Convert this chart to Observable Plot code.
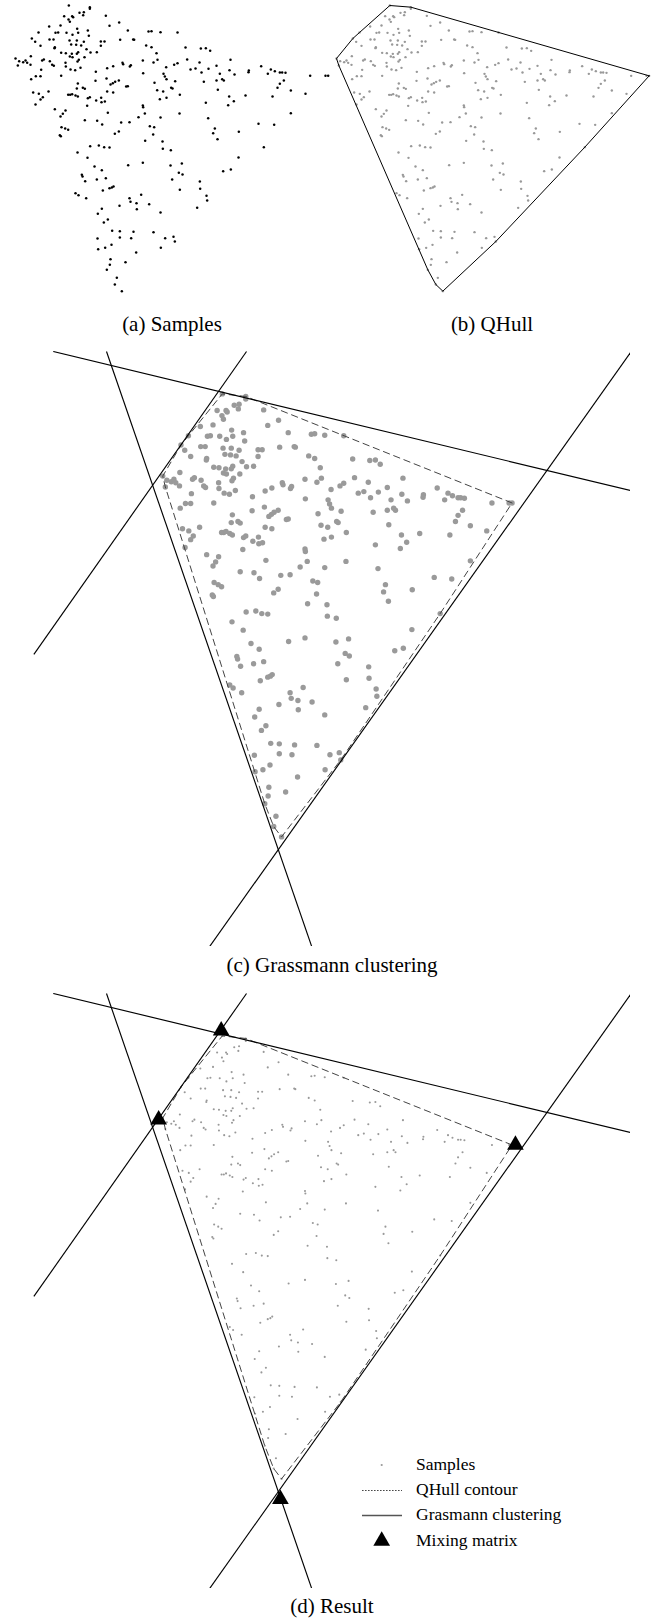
<!DOCTYPE html>
<html>
<head>
<meta charset="utf-8">
<script src="https://cdn.jsdelivr.net/npm/d3@7"></script>
<script src="https://cdn.jsdelivr.net/npm/@observablehq/plot@0.6"></script>
<style>
  body { margin: 0; background: #fff; }
  #fig { position: relative; width: 654px; height: 1618px; font-family: "Liberation Serif", "Times New Roman", serif; }
  #fig > svg { position: absolute; }
</style>
</head>
<body>
<div id="fig"></div>
<script>
// Two-dimensional projections of the observed mixtures (arbitrary units, y grows downward)
const sampleX = [205,268,268,237,250,248,191,215,218,316,204,208,356,146,180,327,230,262,382,444,
  453,480,531,114,165,173,198,233,216,265,94,147,159,207,229,250,301,312,359,398,
  401,104,120,212,227,163,162,242,301,437,453,555,601,616,629,258,233,229,270,289,
  182,196,214,208,468,216,252,235,231,91,130,125,56,68,75,80,45,52,90,148,
  155,160,195,196,210,224,240,427,459,471,560,597,690,366,368,388,391,338,320,497,
  521,531,570,585,603,624,648,687,702,658,745,744,782,802,811,823,838,845,855,929,
  975,983,122,106,120,92,182,286,318,428,489,493,498,524,462,610,648,665,670,850,
  232,247,253,229,285,337,344,355,330,377,382,320,338,470,488,512,516,652,831,838,
  871,915,98,115,144,127,120,105,203,209,215,225,232,262,268,287,302,303,313,260,
  478,498,538,616,686,700,683,735,816,427,428,163,195,187,180,322,537,433,414,480,
  871,253,290,305,362,387,623,774,821,448,461,355,343,458,183,194,203,178,181,643,
  638,651,715,434,486,269,295,311,327,231,487,511,790,261,714,383,427,282,304,510,
  544,535,546,668,691,244,246,254,289,316,515,327,334,339,307,538,598,599,225,234,
  257,387,390,422,408,409,446,357,618,620,590,304,292,322,310,480,335,358,358,399,
  392,459,494,519,523,291,293,314,333,407,481,330,328,319,375,349,343,364];
const sampleY = [15,20,25,37,35,44,47,47,50,46,57,64,66,78,75,76,85,90,90,93,
  92,95,96,96,97,96,97,97,103,106,114,117,117,120,120,124,123,123,118,117,
  118,124,136,132,133,140,143,135,136,135,140,141,144,143,151,146,155,160,156,155,
  157,158,160,168,158,170,170,178,183,167,177,180,182,185,180,187,174,195,193,182,
  193,196,187,198,207,209,202,180,186,178,177,186,178,187,191,198,194,197,203,200,
  193,188,207,204,216,205,196,209,222,220,210,215,197,220,207,212,216,216,217,226,
  226,226,208,227,227,236,226,214,234,218,220,228,236,242,247,244,240,236,240,240,
  249,262,265,264,241,248,244,240,252,258,257,273,276,269,273,262,264,268,262,250,
  270,280,276,280,273,290,297,312,283,283,281,285,288,293,290,300,292,305,303,316,
  296,292,283,307,288,302,314,285,288,315,320,326,330,340,348,337,339,339,350,351,
  338,359,361,372,366,365,353,370,373,377,380,393,400,402,380,384,388,404,407,384,
  398,416,394,421,423,437,435,440,441,456,445,449,440,472,471,494,487,498,509,495,
  489,517,522,512,507,523,528,542,537,533,537,563,561,558,570,568,543,565,578,584,
  593,593,604,583,608,626,611,616,586,600,622,625,640,657,666,636,691,692,711,694,
  713,695,713,709,723,714,746,742,733,756,742,776,793,808,785,832,852,872];

// Grassmann clustering: one line per source direction, given by two points
const lineX1 = [-249, -106, 270, 1301];
const lineY1 = [-67, -67, -67, -65];
const lineX2 = [1301, 445, -301, 171];
const lineY2 = [202, 1084, 519, 1084];

// Estimated mixing matrix columns
const mixX = [202, 34, 992, 361];
const mixY = [5, 177, 226, 911];

const samples = sampleX.map((x, i) => ({x, y: sampleY[i]}));
const lines = lineX1.map((x1, i) => ({x1, y1: lineY1[i], x2: lineX2[i], y2: lineY2[i]}));
const mixing = mixX.map((x, i) => ({x, y: mixY[i]}));

// Convex hull of the samples (closed ring)
const hull = d3.polygonHull(samples.map(d => [d.x, d.y]));
hull.push(hull[0]);

const fig = document.getElementById("fig");

function panel({left, top, width, height, xDomain, yDomain, marks}) {
  const svg = Plot.plot({
    width, height, margin: 0,
    x: {domain: xDomain, axis: null},
    y: {domain: yDomain, reverse: true, axis: null},
    style: {background: "transparent", overflow: "visible"},
    marks
  });
  svg.style.position = "absolute";
  svg.style.left = left + "px";
  svg.style.top = top + "px";
  fig.append(svg);
}

const smallDomainX = [0, 990], smallDomainY = [0, 900];
const bigDomainX = [-302, 1301], bigDomainY = [-67, 1084];

// (a) raw samples
panel({left: 0, top: 0, width: 330, height: 300, xDomain: smallDomainX, yDomain: smallDomainY,
  marks: [Plot.dot(samples, {x: "x", y: "y", r: 1.25, fill: "black", stroke: null})]});

// (b) samples with their convex hull
panel({left: 321, top: 0, width: 330, height: 300, xDomain: smallDomainX, yDomain: smallDomainY,
  marks: [
    Plot.dot(samples, {x: "x", y: "y", r: 1.2, fill: "#999", stroke: null}),
    Plot.line(hull, {x: d => d[0], y: d => d[1], stroke: "black", strokeWidth: 1})
  ]});

// (c) Grassmann clustering lines over the hull
panel({left: 33, top: 351, width: 597, height: 595, xDomain: bigDomainX, yDomain: bigDomainY,
  marks: [
    Plot.dot(samples, {x: "x", y: "y", r: 2.7, fill: "#9a9a9a", stroke: null}),
    Plot.line(hull, {x: d => d[0], y: d => d[1], stroke: "#444", strokeWidth: 1, strokeDasharray: "6.5,4.5"}),
    Plot.link(lines, {x1: "x1", y1: "y1", x2: "x2", y2: "y2", stroke: "black", strokeWidth: 1.15, clip: true})
  ]});

// (d) result with the estimated mixing matrix
panel({left: 33, top: 993, width: 597, height: 595, xDomain: bigDomainX, yDomain: bigDomainY,
  marks: [
    Plot.dot(samples, {x: "x", y: "y", r: 1.05, fill: "#999", stroke: null}),
    Plot.line(hull, {x: d => d[0], y: d => d[1], stroke: "#444", strokeWidth: 1, strokeDasharray: "6.5,4.5"}),
    Plot.link(lines, {x1: "x1", y1: "y1", x2: "x2", y2: "y2", stroke: "black", strokeWidth: 1.15, clip: true}),
    Plot.dot(mixing, {x: "x", y: "y", symbol: "triangle", r: 6.2, fill: "black", stroke: null})
  ]});

// Captions and legend
const overlay = d3.create("svg")
  .attr("width", 654).attr("height", 1618)
  .style("left", "0px").style("top", "0px").style("pointer-events", "none")
  .attr("font-family", "'Liberation Serif', 'Times New Roman', serif");

const captions = [
  {text: "(a) Samples", x: 172, y: 331},
  {text: "(b) QHull", x: 492, y: 331},
  {text: "(c) Grassmann clustering", x: 332, y: 972},
  {text: "(d) Result", x: 332, y: 1613}
];
overlay.selectAll("text.cap").data(captions).join("text")
  .attr("class", "cap")
  .attr("x", d => d.x).attr("y", d => d.y)
  .attr("text-anchor", "middle").attr("font-size", 21).attr("fill", "black")
  .text(d => d.text);

const legend = overlay.append("g");
const rowY = [1465, 1490.5, 1515.5, 1541];
const labels = ["Samples", "QHull contour", "Grasmann clustering", "Mixing matrix"];
legend.append("circle").attr("cx", 381.7).attr("cy", rowY[0]).attr("r", 1.1).attr("fill", "#999");
legend.append("line").attr("x1", 362).attr("x2", 402).attr("y1", rowY[1]).attr("y2", rowY[1])
  .attr("stroke", "#333").attr("stroke-width", 0.9).attr("stroke-dasharray", "1.6,1.4");
legend.append("line").attr("x1", 362).attr("x2", 402).attr("y1", rowY[2]).attr("y2", rowY[2])
  .attr("stroke", "#555").attr("stroke-width", 1.6);
legend.append("path").attr("transform", `translate(381.7,${rowY[3]})`)
  .attr("d", d3.symbol(d3.symbolTriangle, Math.PI * 6.2 * 6.2)()).attr("fill", "black");
legend.selectAll("text").data(labels).join("text")
  .attr("x", 416).attr("y", (d, i) => rowY[i] + 4.6)
  .attr("font-size", 17.5).attr("fill", "black")
  .text(d => d);

fig.append(overlay.node());
</script>
</body>
</html>
